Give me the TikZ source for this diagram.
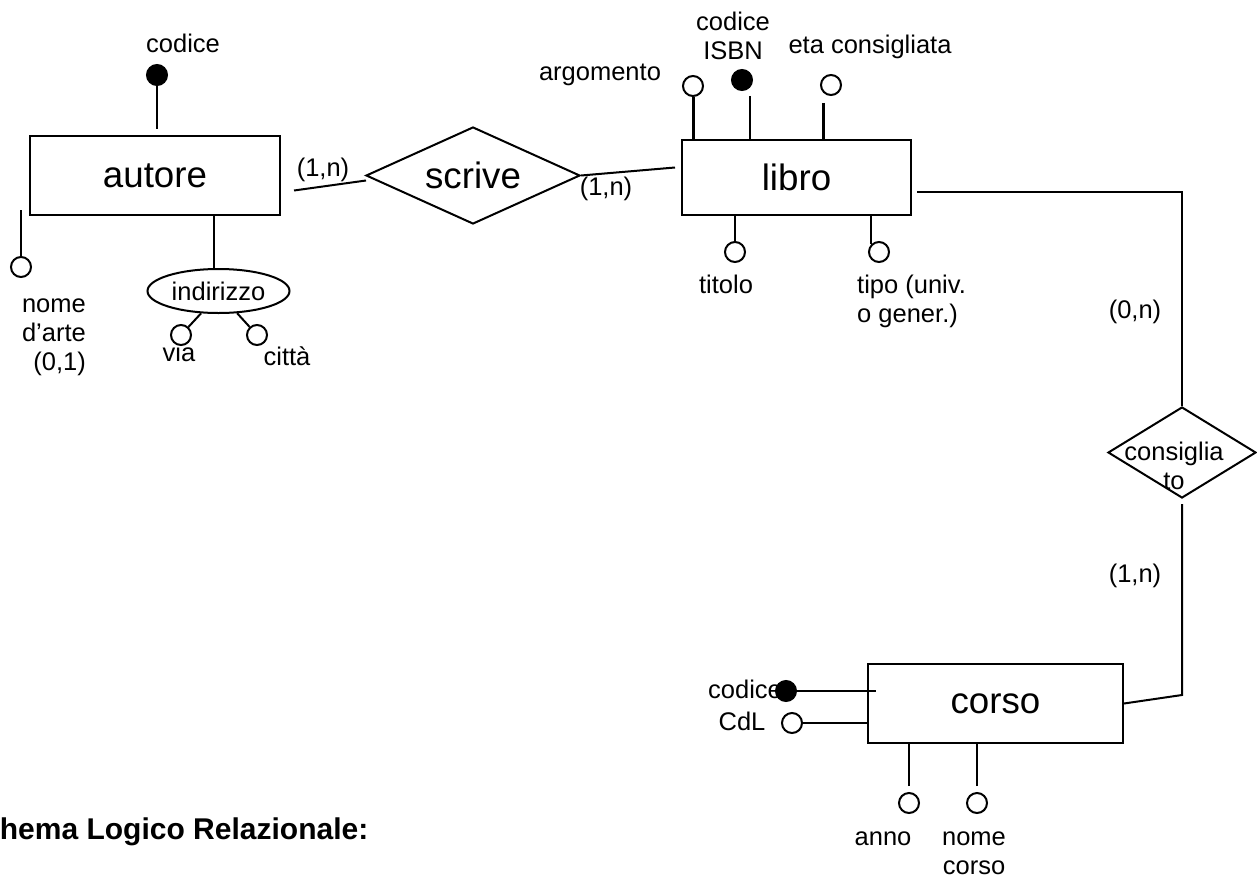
\documentclass[tikz,border=0pt]{standalone}
\usepackage{fontspec}
\setmainfont{Liberation Sans}
\usepackage{tikz}
\usetikzlibrary{shapes.geometric,calc}
\newcommand\bigtxt{\fontsize{36.7}{42}\selectfont}
\newcommand\smalltxt{\fontsize{25.5}{29}\selectfont}
\tikzstyle{entity} = [rectangle, draw=black, line width=2pt, font=\bigtxt]
\tikzstyle{relation} = [diamond, draw=black, line width=2pt, inner sep=0pt]
\tikzstyle{compound} = [ellipse, draw=black, line width=2pt, inner sep=0pt, font=\smalltxt]
\tikzstyle{attr} = [circle, draw=black, line width=2pt, minimum size=20pt, inner sep=0pt, fill=white]
\tikzstyle{keyattr} = [attr, fill=black]
\tikzstyle{txt} = [inner sep=0pt, font=\smalltxt]
\tikzstyle{link} = [line width=2pt]
\tikzstyle{boldlink} = [line width=3pt]
\begin{document}
\begin{tikzpicture}[x=1pt,y=-1pt]
        \useasboundingbox (0,0) rectangle (1257,878);
        % entities and relations
        \node(autore) [entity, minimum width=250pt, minimum height=79pt] at (155,175.5) {autore};
        \node(libro) [entity, minimum width=229pt, minimum height=75pt] at (796.5,177.5) {libro};
        \node(corso) [entity, minimum width=255pt, minimum height=79pt] at (995.5,703.5) {corso};
        \node(scrive) [relation, minimum width=214pt, minimum height=97pt] at (473,175.5) {};
        \node(scrivetxt) [txt, font=\bigtxt] at (scrive) {scrive};
        \node(consigliato) [relation, minimum width=148pt, minimum height=91pt] at (1182,452.5) {};
        \node(consigliatotxt) [txt, align=center, anchor=north] at (1174,442) {consiglia\\to};
        \node(indirizzo) [compound, minimum width=142pt, minimum height=44pt] at (218.5,291) {indirizzo};
        % labels
        \node(autcodtxt) [txt, anchor=base] at (183,52) {codice};
        \node(nomeartetxt) [txt, align=right, anchor=north east] at (86,299) {nome\\d’arte\\(0,1)};
        \node(viatxt) [txt, anchor=base] at (179,361) {via};
        \node(cittatxt) [txt, anchor=base] at (287,365) {città};
        \node(argomentotxt) [txt, anchor=base] at (600,80) {argomento};
        \node(isbntxt) [txt, align=center, anchor=north] at (733,12) {codice\\ISBN};
        \node(etatxt) [txt, anchor=base] at (870,53) {eta consigliata};
        \node(titolotxt) [txt, anchor=base] at (726,293) {titolo};
        \node(tipotxt) [txt, align=left, anchor=north west] at (857,275) {tipo (univ.\\o gener.)};
        \node(corcodtxt) [txt, anchor=base] at (745,698) {codice};
        \node(cdltxt) [txt, anchor=base] at (742,730) {CdL};
        \node(annotxt) [txt, anchor=base] at (883,845) {anno};
        \node(nomecorsotxt) [txt, align=center, anchor=north] at (974,832) {nome\\corso};
        \node(card1) [txt, anchor=base] at (323,176) {(1,n)};
        \node(card2) [txt, anchor=base] at (606,195) {(1,n)};
        \node(card3) [txt, anchor=base] at (1135,318) {(0,n)};
        \node(card4) [txt, anchor=base] at (1135,582) {(1,n)};
        \node(schema) [txt, font=\fontsize{30}{36}\selectfont\bfseries, anchor=base west] at (-37,839) {Schema Logico Relazionale:};
        % attributes
        \node(autcod) [keyattr] at (157,75) {};
        \node(nomearte) [attr] at (21,267) {};
        \node(via) [attr] at (181,335) {};
        \node(citta) [attr] at (257,335) {};
        \node(argomento) [attr] at (693,86) {};
        \node(isbn) [keyattr] at (742,80) {};
        \node(eta) [attr] at (831,85) {};
        \node(titolo) [attr] at (735,252) {};
        \node(tipo) [attr] at (879,252) {};
        \node(corcod) [keyattr] at (786,691) {};
        \node(cdl) [attr] at (792,723) {};
        \node(anno) [attr] at (909,803) {};
        \node(nomecorso) [attr] at (977,803) {};
        \coordinate(knee) at (1182,695);
        % connectors
        \draw [link] ($(autore.east)+(13,15)$)--($(scrive.west)+(1,5)$);
        \draw [link] (scrive.east)--($(libro.west)+(-6,-10)$);
        \draw [link] ($(libro.east)+(5,14)$)-|(consigliato.north);
        \draw [link] ($(consigliato.south)+(0,5)$)--(knee)--(corso.east);
        \draw [link, shorten >=6pt] (autcod)--(autcod |- autore.north);
        \draw [link, shorten >=-6pt] (nomearte)--(nomearte |- autore.south);
        \draw [link] ([xshift=-5pt]indirizzo.north)--([xshift=-5pt]indirizzo.north |- autore.south);
        \draw [link] (indirizzo.232)--(via);
        \draw [link] (indirizzo.310)--(citta);
        \draw [boldlink] (argomento)--(argomento |- libro.north);
        \draw [link, shorten <=8pt] (isbn.south east)--(isbn.south east |- libro.north);
        \draw [boldlink, shorten <=10pt] (eta.south west)--(eta.south west |- libro.north);
        \draw [link] (titolo)--(titolo |- libro.south);
        \draw [link] (tipo.north west)--(tipo.north west |- libro.south);
        \draw [link, shorten >=-9pt] (corcod)--(corcod -| corso.west);
        \draw [link] (cdl)--(cdl -| corso.west);
        \draw [link, shorten <=6pt] (anno)--(anno |- corso.south);
        \draw [link, shorten <=6pt] (nomecorso)--(nomecorso |- corso.south);
\end{tikzpicture}
\end{document}
